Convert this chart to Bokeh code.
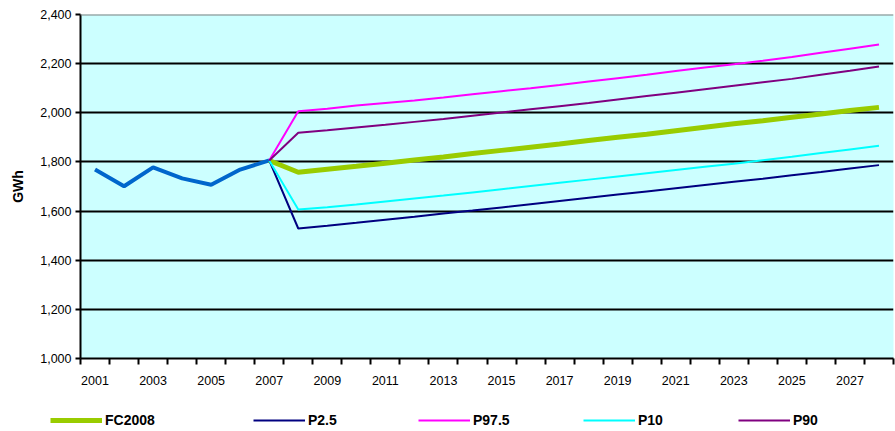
from bokeh.plotting import figure
from bokeh.layouts import column
from bokeh.models import FixedTicker, NumeralTickFormatter, Span, Legend, LegendItem
from bokeh.embed import file_html
from bokeh.resources import INLINE

years_hist = [2001, 2002, 2003, 2004, 2005, 2006, 2007]
hist = [1769, 1701, 1778, 1733, 1707, 1769, 1806]

years_fc = [2007, 2008, 2009, 2010, 2011, 2012, 2013, 2014, 2015, 2016, 2017,
            2018, 2019, 2020, 2021, 2022, 2023, 2024, 2025, 2026, 2027, 2028]
fc2008 = [1806, 1758, 1770, 1782, 1795, 1808, 1820, 1834, 1847, 1860, 1873,
          1887, 1900, 1913, 1927, 1941, 1955, 1968, 1982, 1995, 2009, 2022]
p2_5 = [1806, 1529, 1540, 1552, 1565, 1577, 1590, 1602, 1615, 1628, 1641,
        1654, 1667, 1680, 1693, 1706, 1719, 1732, 1746, 1759, 1773, 1787]
p97_5 = [1806, 2006, 2016, 2030, 2040, 2050, 2062, 2075, 2088, 2100, 2113,
         2127, 2141, 2155, 2170, 2184, 2198, 2212, 2227, 2244, 2261, 2278]
p10 = [1806, 1606, 1616, 1627, 1639, 1651, 1663, 1676, 1689, 1702, 1715,
       1728, 1741, 1754, 1767, 1780, 1793, 1807, 1821, 1836, 1851, 1866]
p90 = [1806, 1919, 1929, 1940, 1951, 1963, 1975, 1988, 2001, 2014, 2027,
       2040, 2054, 2068, 2082, 2096, 2110, 2124, 2138, 2155, 2171, 2188]

series_names = ["FC2008", "P2.5", "P97.5", "P10", "P90"]
series_colors = ["#99CC00", "#000080", "#FF00FF", "#00FFFF", "#800080"]
series_widths = [5, 2, 2, 2, 2]

x_labels = [2001, 2003, 2005, 2007, 2009, 2011, 2013, 2015, 2017, 2019,
            2021, 2023, 2025, 2027]
y_ticks = [1000, 1200, 1400, 1600, 1800, 2000, 2200, 2400]

FONT = "Liberation Sans"

p = figure(width=895, height=400, output_backend="svg", toolbar_location=None,
           x_range=(2000.5, 2028.5), y_range=(1000, 2400),
           min_border_left=80, min_border_right=2, min_border_top=14,
           min_border_bottom=42)
p.frame_align = False
p.background_fill_color = "#CCFFFF"
p.border_fill_color = "white"
p.outline_line_color = None

xa = p.xaxis[0]
xa.ticker = FixedTicker(ticks=x_labels,
                        minor_ticks=[y + 0.5 for y in range(2000, 2029)])
xa.major_tick_line_color = None
xa.major_tick_out = 0
xa.major_tick_in = 0
xa.minor_tick_out = 6
xa.minor_tick_in = 0
xa.minor_tick_line_color = "black"
xa.minor_tick_line_width = 2
xa.axis_line_color = "black"
xa.axis_line_width = 2
xa.major_label_standoff = 11
xa.major_label_text_font = FONT
xa.major_label_text_font_size = "12.5px"
xa.major_label_text_color = "black"

ya = p.yaxis[0]
ya.ticker = FixedTicker(ticks=y_ticks)
ya.formatter = NumeralTickFormatter(format="0,0")
ya.major_tick_out = 5
ya.major_tick_in = 0
ya.major_tick_line_width = 2
ya.minor_tick_line_color = None
ya.axis_line_color = "black"
ya.axis_line_width = 2
ya.major_label_standoff = 4
ya.major_label_text_font = FONT
ya.major_label_text_font_size = "12.5px"
ya.major_label_text_color = "black"
ya.axis_label = "GWh"
ya.axis_label_text_font = FONT
ya.axis_label_text_font_size = "14px"
ya.axis_label_text_font_style = "bold"
ya.axis_label_text_color = "black"
ya.axis_label_standoff = 11

p.xgrid.grid_line_color = None
p.ygrid.ticker = FixedTicker(ticks=y_ticks[1:-1])
p.ygrid.grid_line_color = "black"
p.ygrid.grid_line_width = 2
p.add_layout(Span(location=2400, dimension="width", line_color="#808080", line_width=2))

p.line(years_hist, hist, line_color="#0066CC", line_width=4)
for vals, c, w in zip([fc2008, p2_5, p97_5, p10, p90], series_colors, series_widths):
    p.line(years_fc, vals, line_color=c, line_width=w)

# legend strip
lg = figure(width=895, height=31, output_backend="svg", toolbar_location=None,
            x_axis_type=None, y_axis_type=None, x_range=(0, 1), y_range=(0, 1),
            min_border=0, min_border_left=0, min_border_right=0,
            min_border_top=0, min_border_bottom=0)
lg.frame_align = False
lg.outline_line_color = None
lg.grid.grid_line_color = None
lg.background_fill_color = "white"

legend_x = [50, 253, 418, 583, 738]
for name, c, w, lx in zip(series_names, series_colors, series_widths, legend_x):
    r = lg.line([-10, -9], [-10, -9], line_color=c, line_width=w)
    leg = Legend(items=[LegendItem(label=name, renderers=[r])], location=(lx, 1))
    leg.glyph_width = 52
    leg.label_standoff = 3
    leg.label_text_font = FONT
    leg.label_text_font_size = "14px"
    leg.label_text_font_style = "bold"
    leg.label_text_color = "black"
    leg.border_line_color = None
    leg.background_fill_alpha = 0
    leg.padding = 0
    leg.margin = 0
    lg.add_layout(leg, "center")

open("out.html", "w").write(file_html(column(p, lg), INLINE))
